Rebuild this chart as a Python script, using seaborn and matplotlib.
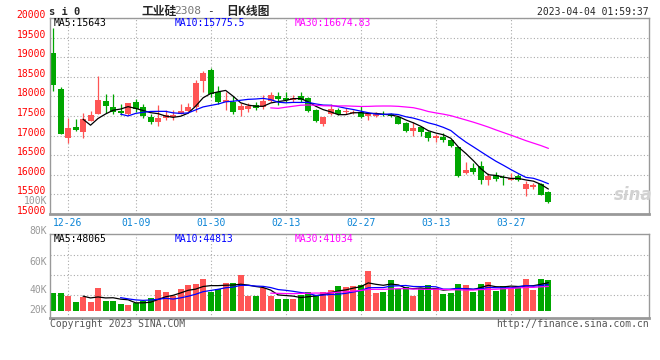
import numpy as np
import pandas as pd
import seaborn as sns
import matplotlib.pyplot as plt

# trading days of si2308, from the listing day on
dates = ['12-22', '12-23', '12-26', '12-27', '12-28', '12-29', '12-30',
         '01-03', '01-04', '01-05', '01-06', '01-09', '01-10', '01-11', '01-12', '01-13',
         '01-16', '01-17', '01-18', '01-19', '01-20', '01-30', '01-31',
         '02-01', '02-02', '02-03', '02-06', '02-07', '02-08', '02-09', '02-10',
         '02-13', '02-14', '02-15', '02-16', '02-17', '02-20', '02-21', '02-22', '02-23',
         '02-24', '02-27', '02-28',
         '03-01', '03-02', '03-03', '03-06', '03-07', '03-08', '03-09', '03-10',
         '03-13', '03-14', '03-15', '03-16', '03-17', '03-20', '03-21', '03-22', '03-23',
         '03-24', '03-27', '03-28', '03-29', '03-30', '03-31', '04-03']
shown_dates = ['12-26', '01-09', '01-30', '02-13', '02-27', '03-13', '03-27']

open_ = [19117, 18188, 16945, 17217, 17098, 17371, 17541, 17882, 17728, 17626,
         17541, 17848, 17728, 17473, 17337, 17456, 17466, 17541, 17626, 17728,
         18401, 18674, 18103, 17848, 17848, 17652, 17677, 17779, 17737, 17882,
         18009, 17967, 17899, 18009, 17950, 17643, 17285, 17541, 17643, 17600,
         17575, 17609, 17507, 17490, 17558, 17550, 17481, 17311, 17124, 17217,
         17089, 16945, 16970, 16885, 16706, 16051, 16170, 16221, 15863, 15991,
         15940, 15872, 15965, 15633, 15685, 15761, 15556]
close = [18290, 17047, 17192, 17132, 17430, 17524, 17907, 17762, 17609, 17584,
         17830, 17686, 17490, 17337, 17456, 17524, 17524, 17626, 17728, 18350,
         18597, 18061, 17848, 17907, 17609, 17762, 17762, 17711, 17890, 18035,
         17941, 17899, 17950, 17899, 17626, 17371, 17464, 17669, 17541, 17626,
         17609, 17481, 17558, 17558, 17524, 17507, 17294, 17115, 17192, 17081,
         16945, 16996, 16894, 16740, 15974, 16119, 16076, 15872, 15965, 15889,
         15906, 15906, 15872, 15769, 15735, 15497, 15309]
high = [19755, 18248, 17447, 17422, 17566, 17640, 18512, 18060, 18060, 17800,
        17830, 17941, 17813, 17558, 17779, 17660, 17660, 17796, 17830, 18410,
        18657, 18733, 18273, 18103, 18018, 17830, 17830, 17847, 18035, 18103,
        18112, 18120, 18035, 18103, 17992, 17677, 17464, 17805, 17694, 17694,
        17660, 17762, 17592, 17592, 17635, 17575, 17507, 17337, 17354, 17234,
        17115, 17030, 17055, 16902, 16715, 16323, 16289, 16340, 16042, 16059,
        15991, 16051, 16017, 15838, 15795, 15795, 15599]
low = [18137, 17040, 16817, 17115, 16945, 17371, 17541, 17584, 17558, 17524,
       17524, 17609, 17439, 17285, 17251, 17388, 17388, 17541, 17592, 17600,
       18103, 17992, 17796, 17652, 17558, 17498, 17609, 17652, 17677, 17848,
       17779, 17848, 17848, 17848, 17592, 17337, 17243, 17524, 17524, 17541,
       17541, 17456, 17405, 17481, 17507, 17481, 17285, 17098, 16996, 16996,
       16860, 16826, 16843, 16706, 15940, 16008, 16008, 15761, 15735, 15846,
       15735, 15872, 15846, 15454, 15633, 15480, 15292]
volume = [30670, 30670, 25560, 15340, 23860, 15340, 39190, 17040, 17040, 11930,
          10220, 13060, 17040, 22150, 35780, 32380, 25560, 37490, 44300, 46010,
          54530, 32940, 37490, 47710, 47710, 61340, 25560, 25560, 39190, 25560,
          20450, 20450, 20450, 27260, 32380, 27260, 32380, 35780, 42600, 40900,
          42600, 44300, 68160, 30670, 32380, 52820, 37490, 40900, 25560, 39190,
          44300, 39190, 28970, 30670, 46010, 44300, 32380, 46010, 49420, 34080,
          42600, 39190, 42600, 54530, 35780, 54530, 52820]

# moving average readouts as printed on the chart
price_ma_text = ['MA5:15643', 'MA10:15775.5', 'MA30:16674.83']
vol_ma_text = ['MA5:48065', 'MA10:44813', 'MA30:41034']
vol_scale_text = ['100K', '80K', '60K', '40K', '20K']

RED = '#ff5555'
GREEN = '#00a600'
GRID = '#aaaaaa'
FRAME = '#999999'
DATE_COL = '#0b84d6'
MA_COLORS = {5: 'black', 10: 'blue', 30: 'magenta'}

W, H = 660, 360


def px_rect(left, top, right, bottom):
    # axes rectangle given in pixels of the 660x360 picture
    return [left / W, 1 - bottom / H, (right - left) / W, (bottom - top) / H]


def fig_text(fig, xp, yp, s, **kw):
    kw.setdefault('va', 'center')
    kw.setdefault('fontsize', 7)
    fig.text(xp / W, 1 - yp / H, s, **kw)


def style_frame(ax):
    for side, sp in ax.spines.items():
        sp.set_color(FRAME)
        sp.set_linewidth(2 if side == 'bottom' else 1)
    ax.grid(True, color=GRID, linestyle=(0, (1, 2)), linewidth=0.8)
    ax.set_axisbelow(True)
    ax.set(xlabel='', ylabel='')


sns.set_style('white')
plt.rcParams['font.family'] = ['DejaVu Sans Mono', 'Noto Sans CJK SC']

df = pd.DataFrame({'x': np.arange(len(dates)), 'open': open_, 'close': close,
                   'high': high, 'low': low, 'vol': volume})
up = df['close'] >= df['open']
colors = np.where(up, RED, GREEN)
for n in MA_COLORS:
    df[f'ma{n}'] = df['close'].rolling(n).mean()
    df[f'vma{n}'] = df['vol'].rolling(n).mean()

fig = plt.figure(figsize=(6.6, 3.6), dpi=100)
ax_p = fig.add_axes(px_rect(50, 18, 649, 214))
ax_v = fig.add_axes(px_rect(50, 234, 649, 318))
tick_idx = [dates.index(d) for d in shown_dates]

# price panel: candles + moving averages
body_lo = np.minimum(df['open'], df['close'])
body_h = np.maximum((df['close'] - df['open']).abs(), 25)
ax_p.vlines(df['x'], df['low'], df['high'], colors=colors, linewidth=0.9, zorder=2)
ax_p.bar(df['x'], body_h, bottom=body_lo, width=0.8, color=colors, linewidth=0, zorder=2)
for n, c in MA_COLORS.items():
    sns.lineplot(data=df, x='x', y=f'ma{n}', ax=ax_p, color=c, linewidth=0.9, zorder=3)

ax_p.set_xlim(-0.4, 79.4)
ax_p.set_ylim(15000, 20000)
ax_p.set_yticks(range(15000, 20001, 500))
ax_p.set_xticks(tick_idx, shown_dates)
ax_p.tick_params(axis='y', length=0, pad=3, labelcolor='red', labelsize=7)
ax_p.tick_params(axis='x', length=0, pad=3, labelcolor=DATE_COL, labelsize=7)
for lab in ax_p.get_yticklabels():
    lab.set_verticalalignment('baseline')
style_frame(ax_p)

# volume panel
ax_v.bar(df['x'], df['vol'], width=0.8, color=colors, linewidth=0, zorder=2)
for n, c in MA_COLORS.items():
    sns.lineplot(data=df, x='x', y=f'vma{n}', ax=ax_v, color=c, linewidth=0.9, zorder=3)
ax_v.set_xlim(-0.4, 79.4)
ax_v.set_ylim(-11900, 130700)
ax_v.set_yticks([27300, 61400, 95400])
ax_v.set_xticks(tick_idx)
ax_v.tick_params(length=0, labelleft=False, labelbottom=False)
style_frame(ax_v)

# header
fig_text(fig, 49, 12, 's i 0', fontsize=7.5, fontweight='bold')
fig_text(fig, 141, 11, '工业硅', fontsize=8.5, fontweight='bold', family=['Noto Sans CJK SC'])
fig_text(fig, 174, 11.5, '2308', fontsize=8, color='#777777')
fig_text(fig, 207, 11, '-', fontsize=8)
fig_text(fig, 226, 11, '日K线图', fontsize=8.5, fontweight='bold', family=['Noto Sans CJK SC'])
fig_text(fig, 649, 12, '2023-04-04 01:59:37', ha='right')

# last moving average values
for (xp, c), s1, s2 in zip([(54, 'black'), (175, 'blue'), (295, 'magenta')],
                           price_ma_text, vol_ma_text):
    fig_text(fig, xp, 23, s1, color=c)
    fig_text(fig, xp, 239, s2, color=c)

# volume scale labels
for yp, s in zip([201, 231, 262, 290, 310], vol_scale_text):
    fig_text(fig, 47, yp, s, ha='right', color='#999999')

fig_text(fig, 633, 195, 'sina', fontsize=12, fontweight='bold', style='italic',
         color='#d2d2d2', ha='center', family=['DejaVu Sans'])
fig_text(fig, 50, 324, 'Copyright 2023 SINA.COM', color='#555555')
fig_text(fig, 649, 324, 'http://finance.sina.com.cn', ha='right', color='#555555')

fig.savefig('out.png', dpi=100)
